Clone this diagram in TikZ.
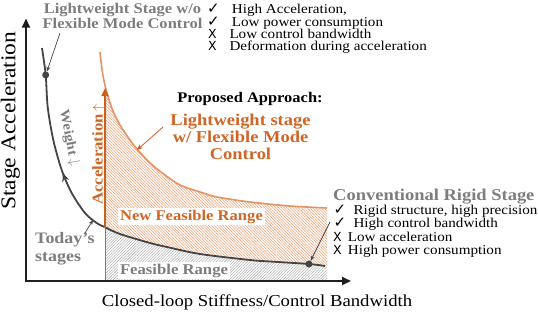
\documentclass[tikz,border=0pt]{standalone}
\usepackage{fontspec}
\setmainfont{Liberation Serif}[FakeStretch=1.12]
\newfontfamily\symfont{DejaVu Sans}
\usetikzlibrary{arrows.meta,patterns.meta,decorations.markings}
\definecolor{orgtxt}{RGB}{208,102,38}
\definecolor{orgarr}{RGB}{204,96,28}
\definecolor{orgline}{RGB}{226,148,100}
\definecolor{orghatch}{RGB}{238,160,115}
\definecolor{grayhatch}{RGB}{180,180,180}
\definecolor{graytxt}{RGB}{125,125,125}
\definecolor{darkc}{RGB}{68,68,68}
\definecolor{axisc}{RGB}{30,30,30}
\newcommand\chk{{\symfont\fontsize{15}{15}\selectfont ✓}}
\newcommand\crs{{\symfont\fontsize{12.5}{12.5}\selectfont X}}
\begin{document}
\begin{tikzpicture}[x=1pt,y=-1pt,
  t/.style={inner sep=0pt, anchor=base},
  tw/.style={inner sep=0pt, anchor=base west},
  lst/.style={tw, font=\fontsize{13.5}{13}\selectfont},
  graybold/.style={text=graytxt, font=\fontsize{#1}{#1}\selectfont\bfseries},
  orgbold/.style={text=orgtxt, font=\fontsize{#1}{#1}\selectfont\bfseries},
  ptr/.style={darkc, line width=0.7pt, -{Stealth[length=5pt,width=4pt]}},
  optr/.style={orgarr, line width=0.8pt, -{Stealth[length=6pt,width=5pt]}},
  dot/.style={circle, fill=darkc, inner sep=0pt, minimum size=7pt},
  axisline/.style={axisc, line width=1.8pt, -{Triangle[length=9pt,width=8pt]}},
  whitebox/.style={fill=white, inner sep=2pt}
]
\useasboundingbox (0,0) rectangle (538,311);

% ---- hatched regions
\begin{scope}
\clip (105,0) rectangle (327,281);
\pattern[pattern={Lines[angle=-45,distance=2pt,line width=0.55pt]}, pattern color=orghatch]
  plot[smooth] coordinates {(100,52) (102.5,73) (106.7,92) (113,111) (120,125) (130,140) (137,149) (150,163) (165,175) (180,185) (200,192) (217,197) (250,202) (290,206) (327,208)}
  -- (327,266)
  -- plot[smooth] coordinates {(327,266) (309,264) (270,261.5) (250,260) (200,254) (167,247) (150,243) (120,234) (106.7,228) (96.7,223) (85,213) (71.7,193) (61.7,170) (53.3,140) (47.7,107) (45.7,75) (42,48)}
  -- cycle;
\pattern[pattern={Lines[angle=45,distance=2pt,line width=0.55pt]}, pattern color=grayhatch]
  plot[smooth] coordinates {(42,48) (45.7,75) (47.7,107) (53.3,140) (61.7,170) (71.7,193) (85,213) (96.7,223) (106.7,228) (120,234) (150,243) (167,247) (200,254) (250,260) (270,261.5) (309,264) (327,266)}
  -- (327,281) -- (42,281) -- cycle;
\end{scope}

% ---- boundary of old feasible range
\coordinate (accbase) at (105,228);
\coordinate (acctip) at (105,88);
\coordinate (O) at (26,281);
\coordinate (ytop) at (26,18.5);
\coordinate (xend) at (351,281);
\draw[graytxt, line width=0.8pt] (accbase) -- (accbase |- O);

% ---- region labels
\node[t, whitebox, orgbold=14.8] (nfr) at (191.5,220) {New Feasible Range};
\node[t, whitebox, graybold=14.9] (fr) at (174,274) {Feasible Range};

% ---- curves
\draw[orgline, line width=1.6pt] plot[smooth] coordinates {(100,52) (102.5,73) (106.7,92) (113,111) (120,125) (130,140) (137,149) (150,163) (165,175) (180,185) (200,192) (217,197) (250,202) (290,206) (327,208)};
\draw[darkc, line width=1.8pt, postaction={decorate},
  decoration={markings, mark=at position 0.30 with {\arrowreversed{Stealth[length=9pt,width=7pt]}}}]
  plot[smooth] coordinates {(42,48) (45.7,75) (47.7,107) (53.3,140) (61.7,170) (71.7,193) (85,213) (96.7,223) (106.7,228) (120,234) (150,243) (167,247) (200,254) (250,260) (270,261.5) (309,264) (325,266)};
\node[dot] (d1) at (45.7,75) {};
\node[dot] (d2) at (309,264) {};

% ---- acceleration arrow
\draw[orgarr, line width=2.4pt, -{Triangle[length=8pt,width=7pt]}] (accbase) -- (acctip);
\node[t, rotate=90, orgbold=15] (acc) at (102.5,154.5) {Acceleration\,$\uparrow$};
\node[inner sep=0pt, rotate=-79, graybold=13.5] (wgt) at (69,138) {Weight $\downarrow$};

% ---- axes
\draw[axisline] (O) -- (ytop);
\draw[axisline] ([xshift=-0.9pt]O) -- (xend);
\node[t, rotate=90, font=\fontsize{21}{21}\selectfont] (ylab) at (15.3,120.8) {Stage Acceleration};
\node[t, font=\fontsize{16.7}{16.7}\selectfont] (xlab) at (257,306.7) {Closed-loop Stiffness/Control Bandwidth};

% ---- top-left label
\node[t, graybold=14.8] (lw1) at (122.5,13.3) {Lightweight Stage w/o};
\node[t, graybold=14.8] (lw2) at (122.5,28.3) {Flexible Mode Control};
\coordinate (p1) at (60,33);
\draw[ptr] (p1) -- (d1);

% ---- top-right list
\node[lst] (a1) at (207,13.3) {\makebox[24.7pt][l]{\chk}High Acceleration,};
\node[lst] (a2) at (207,26) {\makebox[24.7pt][l]{\chk}Low power consumption};
\node[lst] (a3) at (208,38.3) {\makebox[21.3pt][l]{\crs}Low control bandwidth};
\node[lst] (a4) at (208,50.7) {\makebox[21.3pt][l]{\crs}Deformation during acceleration};

% ---- proposed approach
\node[t, font=\fontsize{14.7}{14.7}\selectfont\bfseries] (pa) at (250,102.7) {Proposed Approach:};
\node[t, orgbold=16.5] (o1) at (240.5,125) {Lightweight stage};
\node[t, orgbold=16.5] (o2) at (240.5,142.5) {w/ Flexible Mode};
\node[t, orgbold=16.5] (o3) at (240.5,159) {Control};
\coordinate (op1) at (163,127);
\coordinate (op2) at (137,150);
\draw[optr] (op1) -- (op2);

% ---- today's stages
\node[tw, graybold=16] (td1) at (35,243.5) {Today’s};
\node[tw, graybold=16] (td2) at (35,261.5) {stages};
\coordinate (tp1) at (85,233);
\coordinate (tp2) at (93,220);
\draw[ptr] (tp1) -- (tp2);

% ---- conventional rigid stage
\node[tw, graybold=16.5] (cv) at (333,200) {Conventional Rigid Stage};
\node[lst] (b1) at (333.3,214.3) {\makebox[20pt][l]{\chk}Rigid structure, high precision};
\node[lst] (b2) at (333.3,227.3) {\makebox[20pt][l]{\chk}High control bandwidth};
\node[lst] (b3) at (333,241.7) {\makebox[14.7pt][l]{\crs}Low acceleration};
\node[lst] (b4) at (333,254.3) {\makebox[14.7pt][l]{\crs}High power consumption};
\coordinate (cp1) at (330,222);
\draw[ptr] (cp1) -- (d2);
\end{tikzpicture}
\end{document}
